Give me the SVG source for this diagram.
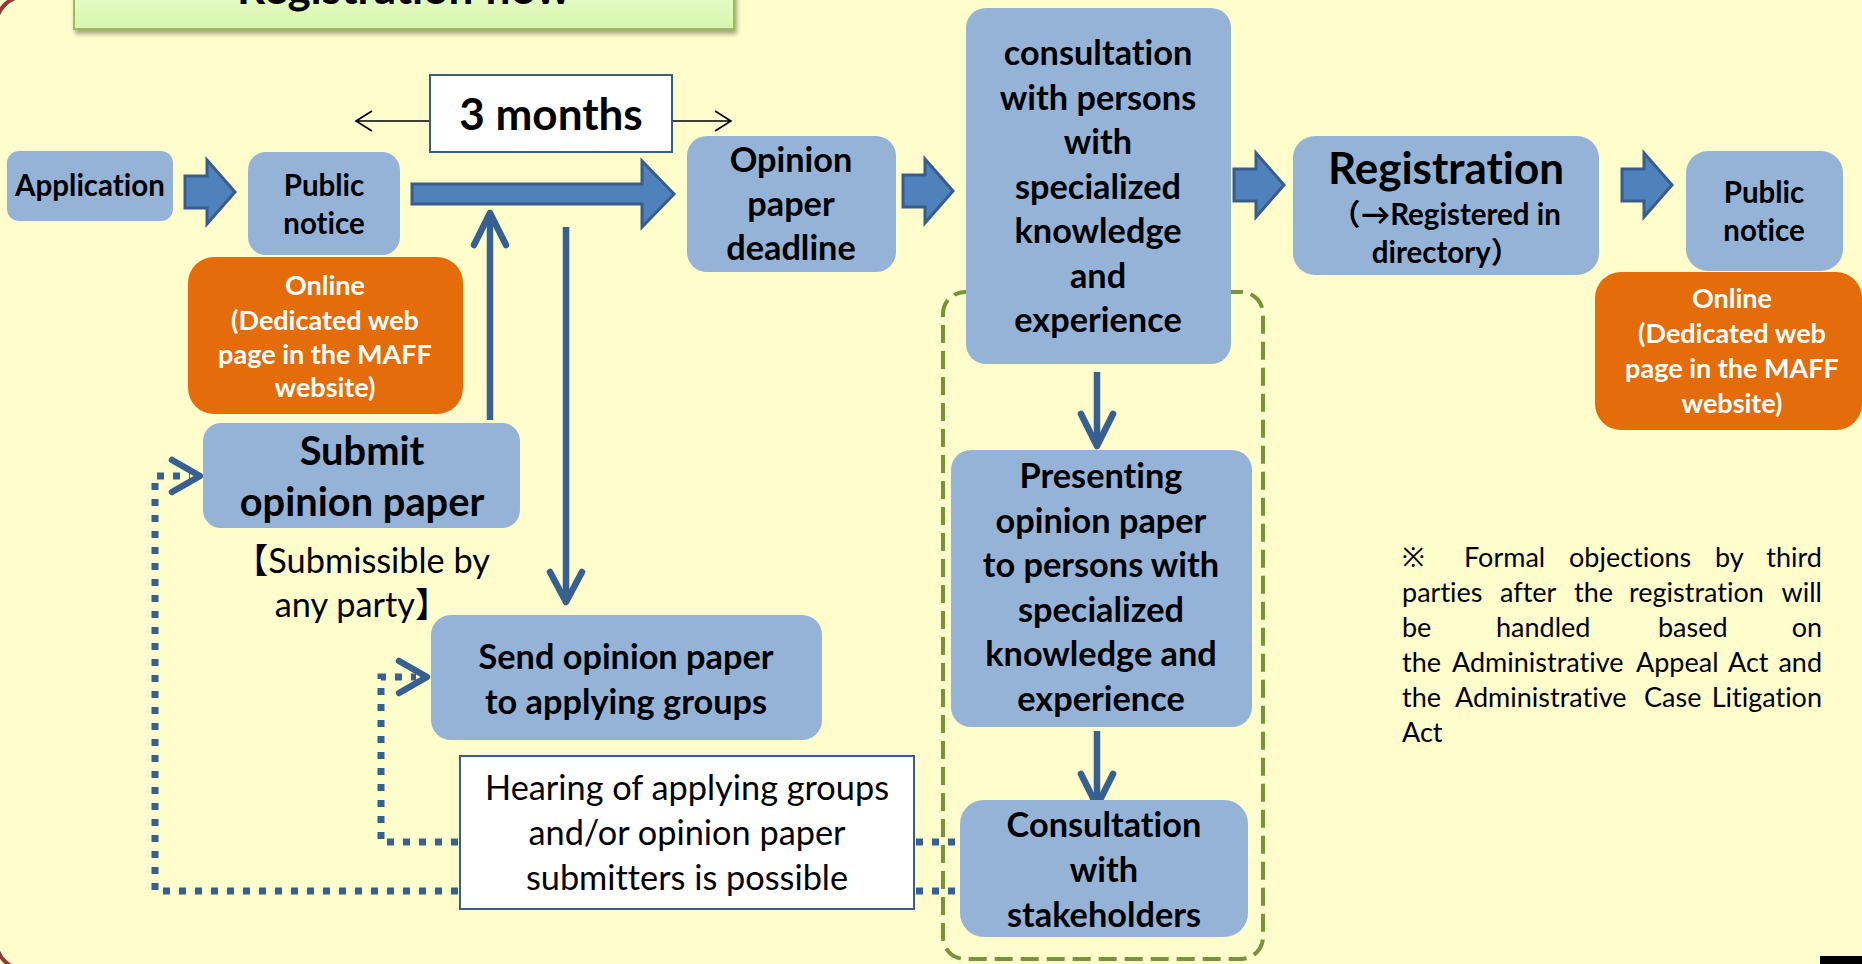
<svg xmlns="http://www.w3.org/2000/svg" width="1862" height="964" viewBox="0 0 1862 964">
  <defs>
    <style>
      .bg { fill: #FFFDCC; }
      .frame { fill: none; stroke: #953735; stroke-width: 4; }
      .box { fill: #95B3D7; }
      .org { fill: #E46C0A; }
      .wbox { fill: #FFFFFF; stroke: #385D8A; stroke-width: 2; }
      .grp { fill: none; stroke: #77933C; stroke-width: 4; stroke-dasharray: 18 8; }
      text { font-variant-ligatures: none; font-feature-settings: "liga" 0, "clig" 0; }
      .t { font-family: Lato, "Noto Sans", "Noto Sans CJK JP", sans-serif; font-weight: 700; text-anchor: middle; fill: #000; }
      .r { font-family: Lato, "Noto Sans", "Noto Sans CJK JP", sans-serif; font-weight: 400; fill: #000; }
      .cjk { font-family: "Noto Sans CJK JP", sans-serif; }
      .mid { text-anchor: middle; }
      .end { text-anchor: end; }
      .wt { fill: #FFFFFF; }
      .s29 { font-size: 29.5px; }
      .s27 { font-size: 27px; }
      .s34 { font-size: 34.3px; }
      .s40 { font-size: 39.8px; }
      .s44 { font-size: 44px; }
      .blk { fill: #4F81BD; stroke: #385D8A; stroke-width: 3; stroke-linejoin: miter; }
      .ln { fill: none; stroke: #376092; stroke-width: 6.5; stroke-linejoin: round; stroke-linecap: round; }
      .lnb { fill: none; stroke: #376092; stroke-width: 6.5; }
      .dot { fill: none; stroke: #376092; stroke-width: 7; stroke-dasharray: 7 9; }
      .thin { fill: none; stroke: #000; stroke-width: 1.6; }
    </style>
    <path id="barrow" d="M0,16 H22 V0 L50,32 L22,64 V48 H0 Z"/>
    <linearGradient id="titleFill" x1="0" y1="0" x2="0" y2="1">
      <stop offset="0" stop-color="#EBFFCF"/>
      <stop offset="1" stop-color="#D7F5AE"/>
    </linearGradient>
    <filter id="shadow" x="-5%" y="-50%" width="110%" height="200%">
      <feDropShadow dx="2" dy="4" stdDeviation="2" flood-color="#000" flood-opacity="0.35"/>
    </filter>
  </defs>

  <!-- page background and frame -->
  <rect class="bg" x="0" y="0" width="1862" height="964"/>
  <rect class="frame" x="-4" y="-4" width="1900" height="974" rx="30"/>
  <rect x="1820" y="956" width="42" height="8" fill="#000"/>

  <!-- title banner -->
  <g id="title">
    <rect x="74" y="-20" width="660" height="49" fill="url(#titleFill)" stroke="#9BBB59" stroke-width="2" filter="url(#shadow)"/>
    <text class="t s44" x="404" y="4">Registration flow</text>
  </g>

  <!-- grouping frame around the expert consultation steps -->
  <rect id="expert-group" class="grp" x="943" y="292" width="320" height="667" rx="22"/>

  <!-- connectors -->
  <g id="connectors">
    <use href="#barrow" class="blk" x="185" y="160"/>
    <use href="#barrow" class="blk" x="903" y="159"/>
    <use href="#barrow" class="blk" x="1234" y="153"/>
    <use href="#barrow" class="blk" x="1622" y="153"/>
    <path class="blk" d="M412,184 H642 V161 L674,194 L642,227 V204 H412 Z"/>

    <!-- 3 months span -->
    <path class="thin" d="M356,121 H430 M372,111 L356,121 L372,131"/>
    <path class="thin" d="M672,121 H731 M715,111 L731,121 L715,131"/>

    <!-- submitted opinions feed into the comment period -->
    <path class="lnb" d="M490,420 V216"/>
    <path class="ln" d="M474,245 L490,213 L506,245"/>
    <!-- opinions forwarded to applicants -->
    <path class="lnb" d="M566,227 V598"/>
    <path class="ln" d="M550,572 L566,602 L582,572"/>
    <!-- expert steps -->
    <path class="lnb" d="M1097,372 V442"/>
    <path class="ln" d="M1081,414 L1097,446 L1113,414"/>
    <path class="lnb" d="M1097,731 V802"/>
    <path class="ln" d="M1081,774 L1097,806 L1113,774"/>

    <!-- hearing links -->
    <path class="dot" d="M458,891 H155 V476 H190"/>
    <path class="ln" d="M172,460 L200,476 L172,492"/>
    <path class="dot" d="M458,842 H381 V677 H416"/>
    <path class="ln" d="M399,661 L427,677 L399,693"/>
    <path class="dot" d="M916,842 H960 M916,891 H960"/>
  </g>

  <g id="application">
    <rect class="box" x="7" y="151" width="166" height="70" rx="12"/>
    <text class="t s29" x="90" y="196">Application</text>
  </g>

  <g id="public-notice-1">
    <rect class="box" x="248" y="152" width="152" height="103" rx="18"/>
    <text class="t s29" x="324" y="196">Public</text>
    <text class="t s29" x="324" y="234">notice</text>
  </g>

  <g id="online-1">
    <rect class="org" x="188" y="257" width="275" height="157" rx="26"/>
    <text class="t s27 wt" x="325" y="295">Online</text>
    <text class="t s27 wt" x="325" y="330">(Dedicated web</text>
    <text class="t s27 wt" x="325" y="364">page in the MAFF</text>
    <text class="t s27 wt" x="325" y="397">website)</text>
  </g>

  <g id="period">
    <rect class="wbox" x="430" y="75" width="242" height="77"/>
    <text class="t s44" x="551" y="130">3 months</text>
  </g>

  <g id="submit-opinion">
    <rect class="box" x="203" y="423" width="317" height="105" rx="18"/>
    <text class="t s40" x="362" y="465">Submit</text>
    <text class="t s40" x="362" y="516">opinion paper</text>
    <text class="r s34 mid" x="362" y="573"><tspan class="cjk">【</tspan>Submissible by</text>
    <text class="r s34 mid" x="362" y="617">any party<tspan class="cjk">】</tspan></text>
  </g>

  <g id="send-opinion">
    <rect class="box" x="431" y="615" width="391" height="125" rx="20"/>
    <text class="t s34" x="626" y="669">Send opinion paper</text>
    <text class="t s34" x="626" y="714">to applying groups</text>
  </g>

  <g id="hearing">
    <rect class="wbox" x="460" y="756" width="454" height="153"/>
    <text class="r s34 mid" x="687" y="800">Hearing of applying groups</text>
    <text class="r s34 mid" x="687" y="845">and/or opinion paper</text>
    <text class="r s34 mid" x="687" y="890">submitters is possible</text>
  </g>

  <g id="deadline">
    <rect class="box" x="687" y="136" width="209" height="136" rx="20"/>
    <text class="t s34" x="791" y="172">Opinion</text>
    <text class="t s34" x="791" y="216">paper</text>
    <text class="t s34" x="791" y="260">deadline</text>
  </g>

  <g id="expert-consultation">
    <rect class="box" x="966" y="8" width="265" height="356" rx="20"/>
    <text class="t s34" x="1098" y="65">consultation</text>
    <text class="t s34" x="1098" y="110">with persons</text>
    <text class="t s34" x="1098" y="154">with</text>
    <text class="t s34" x="1098" y="199">specialized</text>
    <text class="t s34" x="1098" y="243">knowledge</text>
    <text class="t s34" x="1098" y="288">and</text>
    <text class="t s34" x="1098" y="332">experience</text>
  </g>

  <g id="presenting">
    <rect class="box" x="951" y="450" width="301" height="277" rx="20"/>
    <text class="t s34" x="1101" y="488">Presenting</text>
    <text class="t s34" x="1101" y="533">opinion paper</text>
    <text class="t s34" x="1101" y="577">to persons with</text>
    <text class="t s34" x="1101" y="622">specialized</text>
    <text class="t s34" x="1101" y="666">knowledge and</text>
    <text class="t s34" x="1101" y="711">experience</text>
  </g>

  <g id="stakeholders">
    <rect class="box" x="960" y="800" width="288" height="137" rx="24"/>
    <text class="t s34" x="1104" y="837">Consultation</text>
    <text class="t s34" x="1104" y="882">with</text>
    <text class="t s34" x="1104" y="927">stakeholders</text>
  </g>

  <g id="registration">
    <rect class="box" x="1293" y="136" width="306" height="139" rx="22"/>
    <text class="t s44" x="1446" y="184">Registration</text>
    <text class="t s29" x="1446" y="225"><tspan class="cjk">（</tspan>→Registered in</text>
    <text class="t s29" x="1446" y="263">directory<tspan class="cjk">）</tspan></text>
  </g>

  <g id="public-notice-2">
    <rect class="box" x="1686" y="151" width="157" height="120" rx="22"/>
    <text class="t s29" x="1764" y="203">Public</text>
    <text class="t s29" x="1764" y="241">notice</text>
  </g>

  <g id="online-2">
    <rect class="org" x="1595" y="272" width="267" height="158" rx="26"/>
    <text class="t s27 wt" x="1732" y="308">Online</text>
    <text class="t s27 wt" x="1732" y="343">(Dedicated web</text>
    <text class="t s27 wt" x="1732" y="378">page in the MAFF</text>
    <text class="t s27 wt" x="1732" y="413">website)</text>
  </g>

  <!-- note on objections, justified -->
  <g id="note" class="r s27">
    <text x="1402" y="567">※</text>
    <text x="1464" y="567">Formal</text>
    <text x="1569" y="567">objections</text>
    <text x="1715" y="567">by</text>
    <text class="end" x="1822" y="567">third</text>
    <text x="1402" y="602">parties</text>
    <text x="1500" y="602">after</text>
    <text x="1574" y="602">the</text>
    <text x="1629" y="602">registration</text>
    <text class="end" x="1822" y="602">will</text>
    <text x="1402" y="637">be</text>
    <text x="1496" y="637">handled</text>
    <text x="1658" y="637">based</text>
    <text class="end" x="1822" y="637">on</text>
    <text x="1402" y="672">the</text>
    <text x="1452" y="672">Administrative</text>
    <text x="1636" y="672">Appeal</text>
    <text x="1728" y="672">Act</text>
    <text class="end" x="1822" y="672">and</text>
    <text x="1402" y="707">the</text>
    <text x="1455" y="707">Administrative</text>
    <text x="1644" y="707">Case</text>
    <text class="end" x="1822" y="707">Litigation</text>
    <text x="1402" y="742">Act</text>
  </g>
</svg>
